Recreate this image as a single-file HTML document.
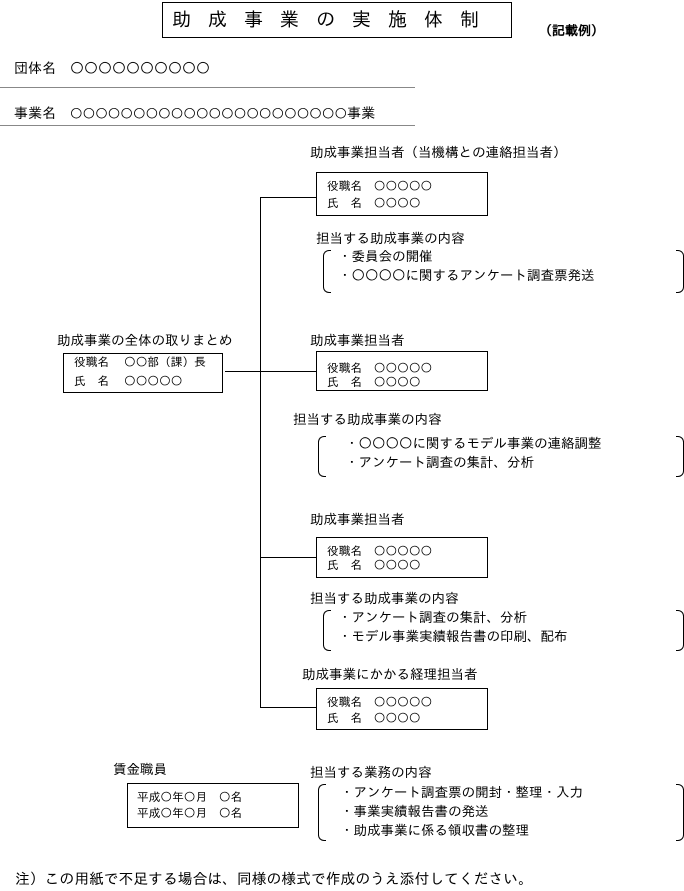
<!DOCTYPE html>
<html><head><meta charset="utf-8"><style>
html,body{margin:0;padding:0;background:#fff;}
body{width:684px;height:891px;position:relative;overflow:hidden;font-family:"Liberation Sans","IPAGothic","Noto Sans CJK JP",sans-serif;font-size:13.5px;color:#000;}
.c{font-family:"IPAGothic","Noto Sans CJK JP",sans-serif;}
.t{position:absolute;white-space:nowrap;line-height:1;}
.s{font-size:11.7px;}
.b{position:absolute;border:1px solid #000;box-sizing:border-box;}
.h{position:absolute;height:1px;background:#000;}
.v{position:absolute;width:1px;background:#000;}
.g{position:absolute;height:1px;background:#888;}
.bl{position:absolute;border:1px solid #000;border-right:none;border-radius:6px 0 0 6px;width:8px;box-sizing:border-box;}
.br{position:absolute;border:1px solid #000;border-left:none;border-radius:0 6px 6px 0;width:8px;box-sizing:border-box;}
</style></head><body>
<div class="b" style="left:162px;top:2px;width:350px;height:36px;"></div>
<div class="t" style="left:172px;top:11px;font-size:19px;letter-spacing:17px;">助成事業の実施体制</div>
<div class="t" style="left:539px;top:24px;font-size:13px;font-weight:bold;">（記載例）</div>

<div class="t" style="left:14px;top:61px;font-size:14px;">団体名　<span class="c">○○○○○○○○○○</span></div>
<div class="g" style="left:0;top:87px;width:415px;"></div>
<div class="t" style="left:14px;top:106px;font-size:14px;">事業名　<span class="c" style="font-size:12.6px;">○○○○○○○○○○○○○○○○○○○○○○</span>事業</div>
<div class="g" style="left:0;top:125px;width:415px;"></div>

<div class="t" style="left:310px;top:146px;">助成事業担当者（当機構との連絡担当者）</div>
<div class="b" style="left:316px;top:172px;width:172px;height:44px;"></div>
<div class="t s" style="left:327px;top:181px;">役職名　<span class="c">○○○○○</span></div>
<div class="t s" style="left:327px;top:198px;">氏　名　<span class="c">○○○○</span></div>
<div class="t" style="left:316px;top:232px;">担当する助成事業の内容</div>
<div class="bl" style="left:323px;top:250px;height:43px;"></div>
<div class="br" style="left:676px;top:250px;height:43px;"></div>
<div class="t" style="left:338px;top:250px;">・委員会の開催</div>
<div class="t" style="left:338px;top:269px;">・<span class="c">○○○○</span>に関するアンケート調査票発送</div>

<div class="v" style="left:260px;top:197px;height:511px;"></div>
<div class="h" style="left:260px;top:197px;width:56px;"></div>

<div class="t" style="left:57px;top:334px;">助成事業の全体の取りまとめ</div>
<div class="b" style="left:63px;top:353px;width:160px;height:40px;"></div>
<div class="t s" style="left:74px;top:357px;">役職名　 <span class="c">○○</span>部（課）長</div>
<div class="t s" style="left:74px;top:376px;">氏　名　 <span class="c">○○○○○</span></div>
<div class="h" style="left:225px;top:371px;width:91px;"></div>

<div class="t" style="left:310px;top:334px;">助成事業担当者</div>
<div class="b" style="left:316px;top:351px;width:172px;height:40px;"></div>
<div class="t s" style="left:327px;top:363px;">役職名　<span class="c">○○○○○</span></div>
<div class="t s" style="left:327px;top:377px;">氏　名　<span class="c">○○○○</span></div>
<div class="t" style="left:293px;top:413px;">担当する助成事業の内容</div>
<div class="bl" style="left:318px;top:436px;height:41px;"></div>
<div class="br" style="left:676px;top:436px;height:41px;"></div>
<div class="t" style="left:345px;top:437px;">・<span class="c">○○○○</span>に関するモデル事業の連絡調整</div>
<div class="t" style="left:345px;top:456px;">・アンケート調査の集計、分析</div>

<div class="t" style="left:310px;top:513px;">助成事業担当者</div>
<div class="b" style="left:316px;top:537px;width:172px;height:41px;"></div>
<div class="t s" style="left:327px;top:546px;">役職名　<span class="c">○○○○○</span></div>
<div class="t s" style="left:327px;top:560px;">氏　名　<span class="c">○○○○</span></div>
<div class="h" style="left:260px;top:557px;width:56px;"></div>
<div class="t" style="left:310px;top:592px;">担当する助成事業の内容</div>
<div class="bl" style="left:323px;top:610px;height:41px;"></div>
<div class="br" style="left:676px;top:610px;height:41px;"></div>
<div class="t" style="left:338px;top:611px;">・アンケート調査の集計、分析</div>
<div class="t" style="left:338px;top:630px;">・モデル事業実績報告書の印刷、配布</div>

<div class="t" style="left:302px;top:668px;">助成事業にかかる経理担当者</div>
<div class="b" style="left:316px;top:688px;width:172px;height:42px;"></div>
<div class="t s" style="left:327px;top:697px;">役職名　<span class="c">○○○○○</span></div>
<div class="t s" style="left:327px;top:713px;">氏　名　<span class="c">○○○○</span></div>
<div class="h" style="left:260px;top:707px;width:56px;"></div>

<div class="t" style="left:113px;top:763px;">賃金職員</div>
<div class="b" style="left:127px;top:783px;width:172px;height:45px;"></div>
<div class="t s" style="left:137px;top:792px;">平成<span class="c">○</span>年<span class="c">○</span>月　<span class="c">○</span>名</div>
<div class="t s" style="left:137px;top:808px;">平成<span class="c">○</span>年<span class="c">○</span>月　<span class="c">○</span>名</div>
<div class="t" style="left:310px;top:766px;">担当する業務の内容</div>
<div class="bl" style="left:318px;top:784px;height:57px;"></div>
<div class="br" style="left:676px;top:784px;height:57px;"></div>
<div class="t" style="left:340px;top:786px;">・アンケート調査票の開封・整理・入力</div>
<div class="t" style="left:340px;top:805px;">・事業実績報告書の発送</div>
<div class="t" style="left:340px;top:824px;">・助成事業に係る領収書の整理</div>

<div class="t" style="left:15px;top:873px;font-size:14.8px;">注）この用紙で不足する場合は、同様の様式で作成のうえ添付してください。</div>
</body></html>
